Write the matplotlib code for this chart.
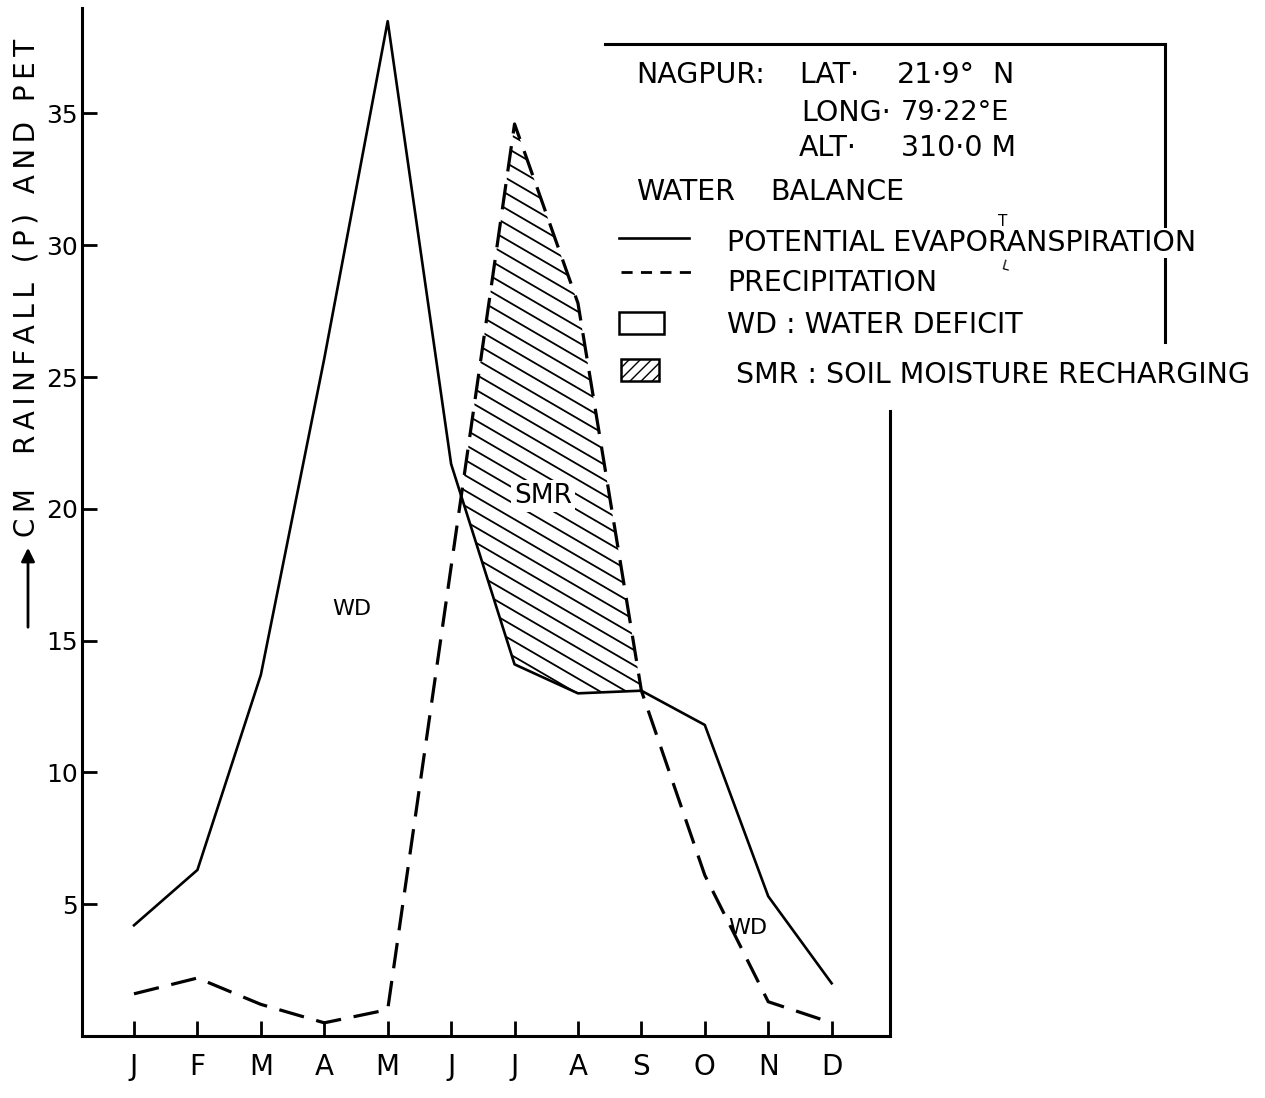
import numpy as np
import matplotlib.pyplot as plt
from matplotlib.patches import Rectangle
from matplotlib.lines import Line2D

# monthly water balance, Nagpur (cm)
months = ['J', 'F', 'M', 'A', 'M', 'J', 'J', 'A', 'S', 'O', 'N', 'D']
pet = [4.2, 6.3, 13.7, 25.7, 38.5, 21.7, 14.1, 13.0, 13.1, 11.8, 5.3, 2.0]
precip = [1.6, 2.2, 1.2, 0.5, 1.0, 17.8, 34.6, 27.8, 13.1, 6.1, 1.3, 0.5]
yticks = [5, 10, 15, 20, 25, 30, 35]

W, H = 1265, 1098
fig = plt.figure(figsize=(W / 100, H / 100), dpi=100)
plt.rcParams['font.family'] = ['DejaVu Sans']


def fx(px):
    return px / W


def fy(py):
    return 1 - py / H


ax = fig.add_axes([fx(82), fy(1036), fx(890) - fx(82), fy(8) - fy(1036)])
x = np.arange(1, len(months) + 1)
pet_a = np.array(pet)
pre_a = np.array(precip)

ax.plot(x, pet_a, color='k', lw=1.9)
ax.plot(x, pre_a, color='k', lw=2.3, ls=(0, (8, 4)))

# soil moisture recharging: hatched area where P > PET
smr = ax.fill_between(x, pet_a, pre_a, where=pre_a >= pet_a, interpolate=True,
                      facecolor='none', edgecolor='none')
clip = smr.get_paths()[0]
for c in np.arange(5, 60, 0.58):
    xs = np.array([5.0, 10.0])
    ln, = ax.plot(xs, c - 1.4 * (xs - 5.0), color='k', lw=1.3)
    ln.set_clip_path(clip, ax.transData)

ax.text(7.45, 20.5, 'SMR', fontsize=19, ha='center', va='center',
        bbox=dict(facecolor='white', edgecolor='none', pad=2))
ax.text(4.44, 16.2, 'WD', fontsize=16, ha='center', va='center')
ax.text(10.68, 4.1, 'WD', fontsize=16, ha='center', va='center')

ax.set_xlim(0.18, 12.92)
ax.set_ylim(0, 39)
ax.set_xticks(x)
ax.set_xticklabels(months)
ax.set_yticks(yticks)
ax.tick_params(axis='both', direction='in', length=11, width=2)
ax.tick_params(axis='x', pad=12, labelsize=20)
ax.tick_params(axis='y', pad=3, labelsize=18)
ax.spines['top'].set_visible(False)
ax.spines['right'].set_bounds(0, 23.7)
for s in ['left', 'bottom', 'right']:
    ax.spines[s].set_linewidth(2.2)

# y label (letter-spaced) with arrow
ylab = 'CM  RAINFALL (P) AND PET'
fig.text(fx(27), fy(288), '\u2009'.join(ylab), rotation=90,
         fontsize=20, ha='center', va='center')
ax.annotate('', xy=(fx(28), fy(545)), xytext=(fx(28), fy(630)),
            xycoords='figure fraction', textcoords='figure fraction',
            annotation_clip=False,
            arrowprops=dict(arrowstyle='-|>', lw=2, color='k', mutation_scale=20))

# legend block
fig.add_artist(Line2D([fx(605), fx(1165)], [fy(44), fy(44)], color='k', lw=2.2))
fig.add_artist(Line2D([fx(1165), fx(1165)], [fy(44), fy(342)], color='k', lw=2.2))

fs = 20.5
fig.text(fx(636), fy(75), 'NAGPUR:', fontsize=fs, va='center')
fig.text(fx(799), fy(75), 'LAT·', fontsize=fs, va='center')
fig.text(fx(897), fy(75), '21·9°', fontsize=fs, va='center')
fig.text(fx(992), fy(75), 'N', fontsize=fs, va='center')
fig.text(fx(801), fy(113), 'LONG·', fontsize=fs, va='center')
fig.text(fx(901), fy(113), '79·22°E', fontsize=19.5, va='center')
fig.text(fx(799), fy(148), 'ALT·', fontsize=fs, va='center')
fig.text(fx(901), fy(148), '310·0 M', fontsize=fs, va='center')
fig.text(fx(636), fy(192), 'WATER', fontsize=fs, va='center')
fig.text(fx(770), fy(192), 'BALANCE', fontsize=fs, va='center')

fig.add_artist(Line2D([fx(619), fx(689)], [fy(238), fy(238)], color='k', lw=1.9))
fig.text(fx(727), fy(243), 'POTENTIAL EVAPORANSPIRATION', fontsize=fs, va='center',
         bbox=dict(facecolor='white', edgecolor='none', pad=1))
fig.text(fx(998), fy(222), 'T', fontsize=11, va='center')
fig.text(fx(1000), fy(266), 'L', fontsize=10, va='center', rotation=-15)
fig.add_artist(Line2D([fx(621), fx(691)], [fy(272), fy(272)], color='k', lw=2,
                      ls=(0, (4, 3))))
fig.text(fx(727), fy(283), 'PRECIPITATION', fontsize=fs, va='center')
fig.add_artist(Rectangle((fx(619), fy(334)), fx(45), 22 / H, facecolor='white',
                         edgecolor='k', lw=1.8))
fig.text(fx(727), fy(325), 'WD : WATER DEFICIT', fontsize=fs, va='center')
fig.add_artist(Rectangle((fx(621), fy(381)), fx(38), 22 / H, facecolor='white',
                         edgecolor='k', lw=1.8, hatch='///'))
fig.text(fx(736), fy(375), 'SMR : SOIL MOISTURE RECHARGING', fontsize=fs, va='center')

fig.savefig('out.png', dpi=100)
